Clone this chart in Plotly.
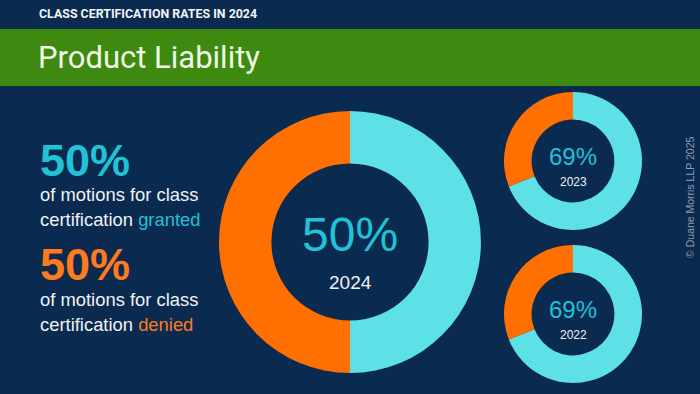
import plotly.graph_objects as go

# ---- data ----
years = ["2024", "2023", "2022"]
granted_pct = [50, 69, 69]
denied_pct = [50, 31, 31]
header = "CLASS CERTIFICATION RATES IN 2024"
title = "Product Liability"
copyright_text = "© Duane Morris LLP 2025"

W, H = 700, 394
BG = "#0b2a4f"
GREEN = "#3e8a10"
CYAN_RING = "#5ee1e6"
ORANGE = "#ff7000"
CYAN_TXT = "#1fc2d6"
ORANGE_TXT = "#ff7a1c"

# donut geometry in pixels (cx, cy from top, radius)
geoms = [(350, 242, 131), (573, 161, 69), (573, 314, 69)]

fig = go.Figure()

def dom(cx, cy, r):
    yb = H - cy
    return dict(x=[(cx - r) / W, (cx + r) / W], y=[(yb - r) / H, (yb + r) / H])

for yr, g, d, (cx, cy, r) in zip(years, granted_pct, denied_pct, geoms):
    fig.add_trace(go.Pie(
        values=[g, d], labels=["Granted", "Denied"], sort=False,
        direction="clockwise", rotation=0, hole=0.6,
        marker=dict(colors=[CYAN_RING, ORANGE], line=dict(width=0)),
        textinfo="none", hoverinfo="label+percent", showlegend=False,
        domain=dom(cx, cy, r)))

shapes = [
    dict(type="rect", xref="paper", yref="paper", x0=0, x1=1,
         y0=(H - 86) / H, y1=(H - 29) / H, fillcolor=GREEN, line=dict(width=0), layer="below"),
]

def px(x):
    return x / W

def py(y):
    return (H - y) / H

ann = []
def t(x, y, text, size, color, family="Liberation Sans, Arial", xanchor="left", textangle=0):
    ann.append(dict(x=px(x), y=py(y), xref="paper", yref="paper", text=text, showarrow=False,
                    xanchor=xanchor, yanchor="middle", textangle=textangle,
                    font=dict(size=size, color=color, family=family)))

t(37, 14, "<b>" + header + "</b>", 12.4, "#f2f4f7", family="Roboto")
t(36, 57, title, 31, "#eef8e4", family="Roboto")

left_texts = [
    (granted_pct[0], CYAN_TXT, "granted", 160, 194, 219),
    (denied_pct[0], ORANGE_TXT, "denied", 264, 299, 324),
]
for val, col, word, y0, y1, y2 in left_texts:
    t(38, y0, f"<b>{val}%</b>", 45, col)
    t(38, y1, "of motions for class", 18.4, "#f0f2f5")
    t(38, y2, f"certification <span style='color:{col}'>{word}</span>", 18.4, "#f0f2f5")

# donut centre labels
sizes = [(48, 19), (24, 12), (24, 12)]
for yr, g, (cx, cy, r), (s1, s2) in zip(years, granted_pct, geoms, sizes):
    t(cx, cy - r * 0.06, f"{g}%", s1, CYAN_TXT, xanchor="center")
    t(cx, cy + r * 0.31, yr, s2, "#f0f2f5", xanchor="center")

t(690, 197, copyright_text, 10.5, "#8b9cb2", xanchor="center", textangle=-90)

fig.update_layout(width=W, height=H, margin=dict(l=0, r=0, t=0, b=0),
                  paper_bgcolor=BG, plot_bgcolor=BG, shapes=shapes, annotations=ann,
                  showlegend=False)
fig.write_html("out.html", config={"displayModeBar": False},
               post_script="document.body.style.margin='0';document.body.style.overflow='hidden';document.body.style.background='%s';" % BG)
